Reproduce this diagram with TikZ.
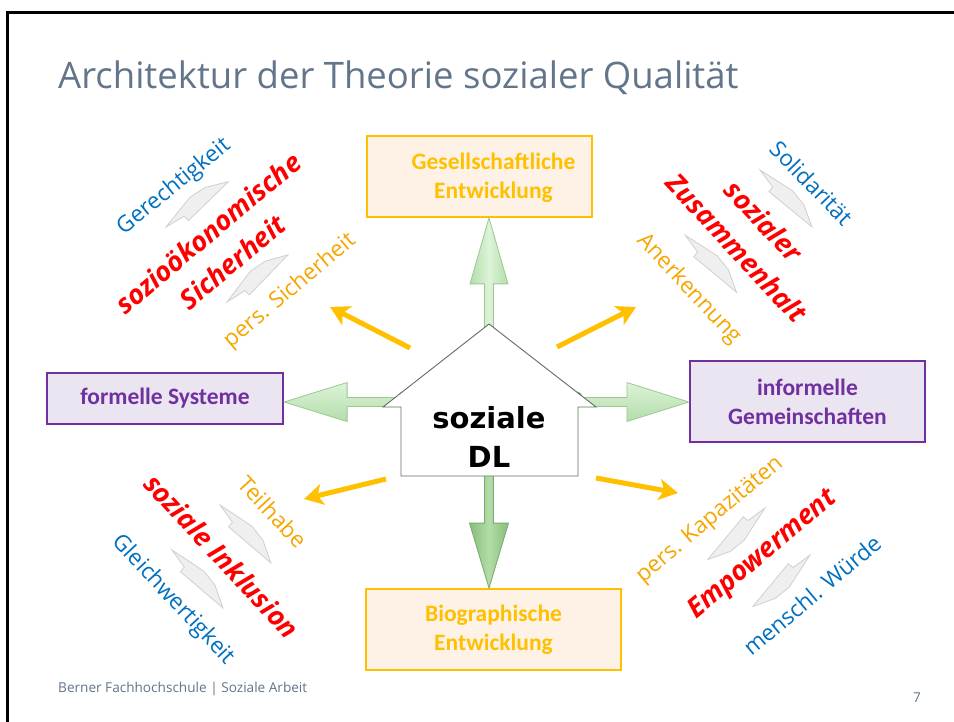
\documentclass[tikz,border=0pt]{standalone}
\usepackage{fontspec}
\setmainfont{Open Sans}
\newfontfamily\calib{Carlito}
\newfontfamily\dlf{DejaVu Sans}
\usetikzlibrary{calc,arrows.meta}

\definecolor{titlegrey}{HTML}{62758A}
\definecolor{boxgold}{HTML}{FFC000}
\definecolor{boxcream}{HTML}{FEF2E6}
\definecolor{purp}{HTML}{7030A0}
\definecolor{lav}{HTML}{EAE5F0}
\definecolor{tblue}{HTML}{0070C0}
\definecolor{tred}{HTML}{FF0000}
\definecolor{torange}{HTML}{F7A600}
\definecolor{gfill}{HTML}{EFEFEF}
\definecolor{gline}{HTML}{D0D0D0}
\definecolor{lgA}{HTML}{B3DDAA}
\definecolor{lgB}{HTML}{DDF3D8}
\definecolor{lgLine}{HTML}{9CC893}
\definecolor{dgA}{HTML}{86BE79}
\definecolor{dgB}{HTML}{B3DCA8}
\definecolor{dgLine}{HTML}{77AB6B}
\definecolor{blob}{HTML}{6F9C66}
\definecolor{houseline}{HTML}{5E6F5E}

\newcommand{\fatarr}[6]{%
  \path ($(#2)!#5!(#1)$) coordinate (fah);
  \draw[#6] ($(#1)!#3!90:(#2)$) -- ($(fah)!#3!90:(#2)$) -- ($(fah)!#4!90:(#2)$)
    -- (#2) -- ($(fah)!#4!-90:(#2)$) -- ($(fah)!#3!-90:(#2)$) -- ($(#1)!#3!-90:(#2)$) -- cycle;
}

\tikzset{
  goldbox/.style={draw=boxgold, fill=boxcream, line width=1.8pt, text=boxgold,
    font=\calib\bfseries\fontsize{23.5}{29}\selectfont, align=center, inner sep=0pt},
  goldtext/.style={text=boxgold, font=\calib\bfseries\fontsize{23.5}{29}\selectfont, align=center, inner sep=0pt},
  purpbox/.style={draw=purp, fill=lav, line width=2.2pt, text=purp,
    font=\calib\bfseries\fontsize{23.5}{29}\selectfont, align=center, inner sep=0pt},
  bigred/.style={text=tred, font=\bfseries\itshape\fontsize{27}{30}\selectfont, inner sep=0pt},
  smallblue/.style={text=tblue, font=\fontsize{22.5}{25}\selectfont, inner sep=0pt},
  smallorange/.style={text=torange, font=\fontsize{22.5}{25}\selectfont, inner sep=0pt},
  yarrow/.style={line width=5pt, draw=boxgold, -{Stealth[length=19pt,width=21pt,inset=5pt]}},
  lightarrowV/.style={left color=lgA, right color=lgA, middle color=lgB, draw=lgLine, line width=0.8pt},
  lightarrowH/.style={top color=lgB, bottom color=lgA, draw=lgLine, line width=0.8pt},
  darkarrowV/.style={left color=dgA, right color=dgA, middle color=dgB, draw=dgLine, line width=0.8pt},
  garrow/.pic={\draw[fill=gfill, draw=gline, line width=0.8pt]
     (0,0) -- (37,-10) -- (55,-9) -- (77,0) -- (22,8) -- (21,2) -- cycle;}
}

\begin{document}
\begin{tikzpicture}[x=1pt,y=-1pt]
\useasboundingbox (0,0) rectangle (954,722);
\fill[white] (0,0) rectangle (954,722);
\draw[line width=3pt, black] (7,724) -- (7,13) -- (956,13);

% title and footer
\node[anchor=base west, inner sep=0pt, text=titlegrey, font=\fontsize{36.5}{40}\selectfont] (title) at (58,88.5) {Architektur der Theorie sozialer Qualität};
\node[anchor=base west, inner sep=0pt, text=titlegrey, font=\fontsize{13.6}{15}\selectfont] (footer) at (58,692) {Berner Fachhochschule | Soziale Arbeit};
\node[anchor=base, inner sep=0pt, text=titlegrey, font=\fontsize{13.6}{15}\selectfont] (pagenum) at (917,702) {7};

% boxes
\node[goldbox, minimum width=225pt, minimum height=81pt] (ges) at (479.5,176.5) {};
\node[goldtext] (gestext) at ($(ges.center)+(14,1.5)$) {Gesellschaftliche\\Entwicklung};
\node[goldbox, minimum width=255pt, minimum height=81pt] (bio) at (493.5,629.5) {Biographische\\Entwicklung};
\node[purpbox, minimum width=236pt, minimum height=51pt] (form) at (165,398.5) {formelle Systeme};
\node[purpbox, minimum width=235pt, minimum height=81pt] (inf) at (807.5,401.5) {informelle\\Gemeinschaften};

% green arrows from the house
\coordinate (roof) at (489,402);
\coordinate (tipU) at (roof |- ges.south);
\coordinate (tipD) at (roof |- bio.north);
\coordinate (tipL) at (form.east |- roof);
\coordinate (tipR) at (inf.west |- roof);
\fatarr{roof}{tipU}{4.5pt}{19pt}{66pt}{lightarrowV}
\fatarr{roof}{tipL}{4.5pt}{19.5pt}{63pt}{lightarrowH}
\fatarr{roof}{tipR}{4.5pt}{19.5pt}{62pt}{lightarrowH}
\fatarr{roof}{tipD}{4.5pt}{19.5pt}{65pt}{darkarrowV}
\fill[blob] (404,398) circle (6.5pt);
\fill[blob] (576,398) circle (6.5pt);

% house
\draw[fill=white, draw=houseline, line width=0.9pt]
  (489,324) coordinate (apex) -- (596,407) -- (578,407) -- (578,476) -- (401,476) -- (401,407) -- (383,407) -- cycle;
\node[inner sep=0pt, align=center, font=\dlf\bfseries\fontsize{29}{39}\selectfont] (dl) at (489,437) {soziale\\DL};

% yellow arrows
\coordinate (ya1s) at (410,348); \coordinate (ya1e) at (330,307);
\coordinate (ya2s) at (557,347); \coordinate (ya2e) at (636,307);
\coordinate (ya3s) at (386,479); \coordinate (ya3e) at (304,499);
\coordinate (ya4s) at (596,478); \coordinate (ya4e) at (678,493);
\draw[yarrow] (ya1s) -- (ya1e);
\draw[yarrow] (ya2s) -- (ya2e);
\draw[yarrow] (ya3s) -- (ya3e);
\draw[yarrow] (ya4s) -- (ya4e);

% grey step arrows
\pic[rotate=36] at (166,227) {garrow};
\pic[rotate=37.7] at (227,302) {garrow};
\pic[rotate=-47.6] at (760,170) {garrow};
\pic[rotate=-48] at (685,235) {garrow};
\pic[rotate=-48.7] at (220,505) {garrow};
\pic[rotate=-48.7] at (172,550) {garrow};
\pic[rotate=-138] at (765,508) {garrow};
\pic[rotate=-138] at (810,555) {garrow};

% upper left
\node[smallblue, rotate=39] (gerecht) at (174,187) {Gerechtigkeit};
\node[bigred, rotate=40] (soziooek) at (208,233) {sozioökonomische};
\node[bigred, rotate=40] (sicher) at (232,262) {Sicherheit};
\node[smallorange, rotate=40] (perssich) at (290,291) {pers. Sicherheit};
% upper right
\node[smallblue, rotate=-46] (solid) at (812,183) {Solidarität};
\node[bigred, rotate=-47] (sozialer) at (764,221) {sozialer};
\node[bigred, rotate=-47] (zusammen) at (737,248) {Zusammenhalt};
\node[smallorange, rotate=-47] (anerk) at (689,289) {Anerkennung};
% lower left
\node[bigred, rotate=-47] (inklusion) at (222,556) {soziale Inklusion};
\node[smallorange, rotate=-47] (teilhabe) at (273,512) {Teilhabe};
\node[smallblue, rotate=-47] (gleichw) at (173,600) {Gleichwertigkeit};
% lower right
\node[smallorange, rotate=40] (perskap) at (710,520) {pers. Kapazitäten};
\node[bigred, rotate=40] (empow) at (763,555) {Empowerment};
\node[smallblue, rotate=40] (wuerde) at (812,595) {menschl. Würde};
\end{tikzpicture}
\end{document}
